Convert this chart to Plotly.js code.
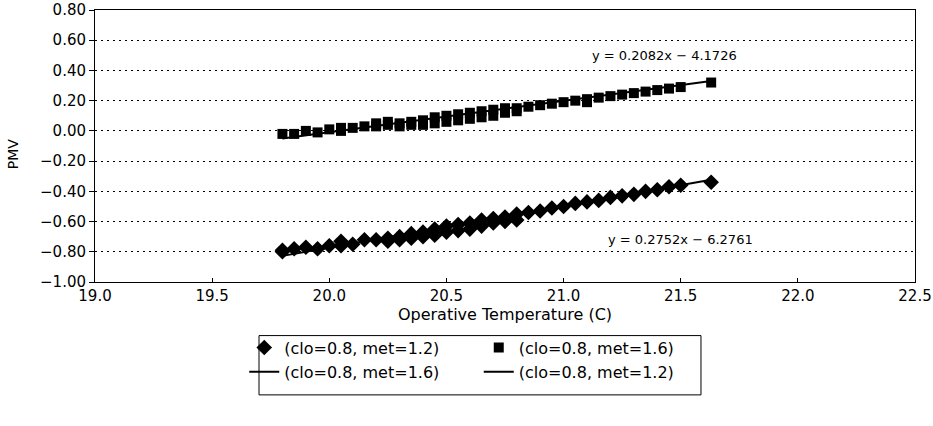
<!DOCTYPE html>
<html>
<head>
<meta charset="utf-8">
<script src="https://cdn.plot.ly/plotly-3.0.1.min.js"></script>
<style>
  html, body { margin: 0; padding: 0; background: #ffffff; }
  #chart { width: 933px; height: 426px; }
</style>
</head>
<body>
<div id="chart"></div>
<script>
// ---- Data ----
// Series 1: clo=0.8, met=1.2 (diamonds)
const xMet12 = [19.80, 19.80, 19.85, 19.90, 19.95, 20.00, 20.05, 20.05, 20.10, 20.15,
                20.20, 20.25, 20.25, 20.30, 20.30, 20.35, 20.35, 20.40, 20.40, 20.45,
                20.45, 20.50, 20.50, 20.55, 20.55, 20.60, 20.60, 20.65, 20.65, 20.70,
                20.70, 20.75, 20.75, 20.80, 20.80, 20.85, 20.90, 20.95, 21.00, 21.05,
                21.10, 21.15, 21.20, 21.25, 21.30, 21.35, 21.40, 21.45, 21.50, 21.63];
const yMet12 = [-0.80, -0.79, -0.78, -0.77, -0.78, -0.76, -0.73, -0.76, -0.75, -0.72,
                -0.72, -0.71, -0.73, -0.70, -0.72, -0.68, -0.71, -0.67, -0.70, -0.65,
                -0.69, -0.63, -0.67, -0.62, -0.66, -0.61, -0.65, -0.59, -0.63, -0.58,
                -0.61, -0.57, -0.60, -0.55, -0.59, -0.54, -0.53, -0.51, -0.50, -0.48,
                -0.47, -0.46, -0.44, -0.43, -0.42, -0.40, -0.39, -0.37, -0.36, -0.34];

// Series 2: clo=0.8, met=1.6 (squares)
const xMet16 = [19.80, 19.85, 19.90, 19.95, 20.00, 20.05, 20.05, 20.10, 20.15, 20.20,
                20.20, 20.25, 20.25, 20.30, 20.30, 20.35, 20.35, 20.40, 20.40, 20.45,
                20.45, 20.50, 20.50, 20.55, 20.55, 20.60, 20.60, 20.65, 20.65, 20.70,
                20.70, 20.75, 20.75, 20.80, 20.80, 20.85, 20.90, 20.95, 21.00, 21.05,
                21.10, 21.10, 21.15, 21.20, 21.25, 21.30, 21.35, 21.40, 21.45, 21.50, 21.63];
const yMet16 = [-0.02, -0.02, 0.00, -0.01, 0.01, 0.02, 0.00, 0.02, 0.03, 0.03,
                0.05, 0.04, 0.06, 0.05, 0.03, 0.06, 0.04, 0.07, 0.04, 0.09,
                0.05, 0.10, 0.06, 0.11, 0.07, 0.12, 0.08, 0.13, 0.09, 0.14,
                0.10, 0.15, 0.12, 0.15, 0.13, 0.16, 0.17, 0.18, 0.19, 0.20,
                0.21, 0.19, 0.22, 0.23, 0.24, 0.25, 0.26, 0.27, 0.28, 0.29, 0.32];

// Linear trend lines (from the equations printed on the chart)
const trendMet12 = { slope: 0.2752, intercept: -6.2761 };
const trendMet16 = { slope: 0.2082, intercept: -4.1726 };

const seriesNames = ['(clo=0.8, met=1.2)', '(clo=0.8, met=1.6)'];
const equationLabels = ['y = 0.2082x \u2212 4.1726', 'y = 0.2752x \u2212 6.2761'];
const xTickValues = [19.0, 19.5, 20.0, 20.5, 21.0, 21.5, 22.0, 22.5];
const yTickValues = [0.80, 0.60, 0.40, 0.20, 0.00, -0.20, -0.40, -0.60, -0.80, -1.00];

// ---- Build traces ----
function trendLine(xs, t) {
  const x0 = Math.min.apply(null, xs), x1 = Math.max.apply(null, xs);
  return { x: [x0, x1], y: [t.slope * x0 + t.intercept, t.slope * x1 + t.intercept] };
}
const tl16 = trendLine(xMet16, trendMet16);
const tl12 = trendLine(xMet12, trendMet12);

const FONT = 'DejaVu Sans, Arial, sans-serif';

const traces = [
  { type: 'scatter', mode: 'markers', x: xMet12, y: yMet12, name: seriesNames[0],
    marker: { symbol: 'diamond', size: 12, color: '#000000' }, legend: 'legend' },
  { type: 'scatter', mode: 'markers', x: xMet16, y: yMet16, name: seriesNames[1],
    marker: { symbol: 'square', size: 10, color: '#000000' }, legend: 'legend2' },
  { type: 'scatter', mode: 'lines', x: tl16.x, y: tl16.y, name: seriesNames[1],
    line: { color: '#000000', width: 2 }, legend: 'legend3' },
  { type: 'scatter', mode: 'lines', x: tl12.x, y: tl12.y, name: seriesNames[0],
    line: { color: '#000000', width: 2 }, legend: 'legend4' }
];

const legFont = { family: FONT, size: 16, color: '#000000' };
function leg(x, y) {
  return { x: x, y: y, xanchor: 'left', yanchor: 'middle', orientation: 'h',
           bgcolor: 'rgba(0,0,0,0)', borderwidth: 0, font: legFont };
}

const layout = {
  width: 933, height: 426,
  margin: { l: 95, r: 18, t: 10, b: 144 },
  paper_bgcolor: '#ffffff', plot_bgcolor: '#ffffff',
  font: { family: FONT, size: 15, color: '#000000' },
  showlegend: true,
  legend: leg(0.182, -0.241),
  legend2: leg(0.468, -0.241),
  legend3: leg(0.182, -0.330),
  legend4: leg(0.468, -0.330),
  xaxis: {
    range: [19.0, 22.5], tickvals: xTickValues, tickformat: '.1f',
    showline: true, linecolor: '#000000', linewidth: 1, mirror: true,
    ticks: 'inside', ticklen: 4, tickcolor: '#000000', ticklabeloverflow: 'allow',
    showgrid: false, zeroline: false,
    tickfont: { family: FONT, size: 15, color: '#000000' },
    title: { text: 'Operative Temperature (C)', standoff: 2,
             font: { family: FONT, size: 16, color: '#000000' } }
  },
  yaxis: {
    range: [-1.0, 0.8], tickvals: yTickValues, tickformat: '.2f',
    showline: true, linecolor: '#000000', linewidth: 1, mirror: true,
    ticks: 'outside', ticklen: 5, tickcolor: '#000000',
    showgrid: true, gridcolor: '#000000', gridwidth: 1, griddash: '2px,4px',
    zeroline: false, automargin: false,
    tickfont: { family: FONT, size: 15, color: '#000000' }
  },
  shapes: [
    { type: 'rect', xref: 'paper', yref: 'paper',
      x0: 0.200, x1: 0.739, y0: -0.197, y1: -0.415,
      line: { color: '#000000', width: 1 }, fillcolor: 'rgba(0,0,0,0)' }
  ],
  annotations: [
    { x: 21.43, y: 0.50, xref: 'x', yref: 'y', text: equationLabels[0], showarrow: false,
      font: { family: FONT, size: 13, color: '#000000' } },
    { x: 21.50, y: -0.72, xref: 'x', yref: 'y', text: equationLabels[1], showarrow: false,
      font: { family: FONT, size: 13, color: '#000000' } },
    // y-axis title "PMV"
    { x: -0.100, y: 0.47, xref: 'paper', yref: 'paper', xanchor: 'center', yanchor: 'middle',
      text: 'PMV', textangle: -90, showarrow: false,
      font: { family: FONT, size: 14, color: '#000000' } }
  ]
};

Plotly.newPlot('chart', traces, layout, { displayModeBar: false, staticPlot: true });
</script>
</body>
</html>
